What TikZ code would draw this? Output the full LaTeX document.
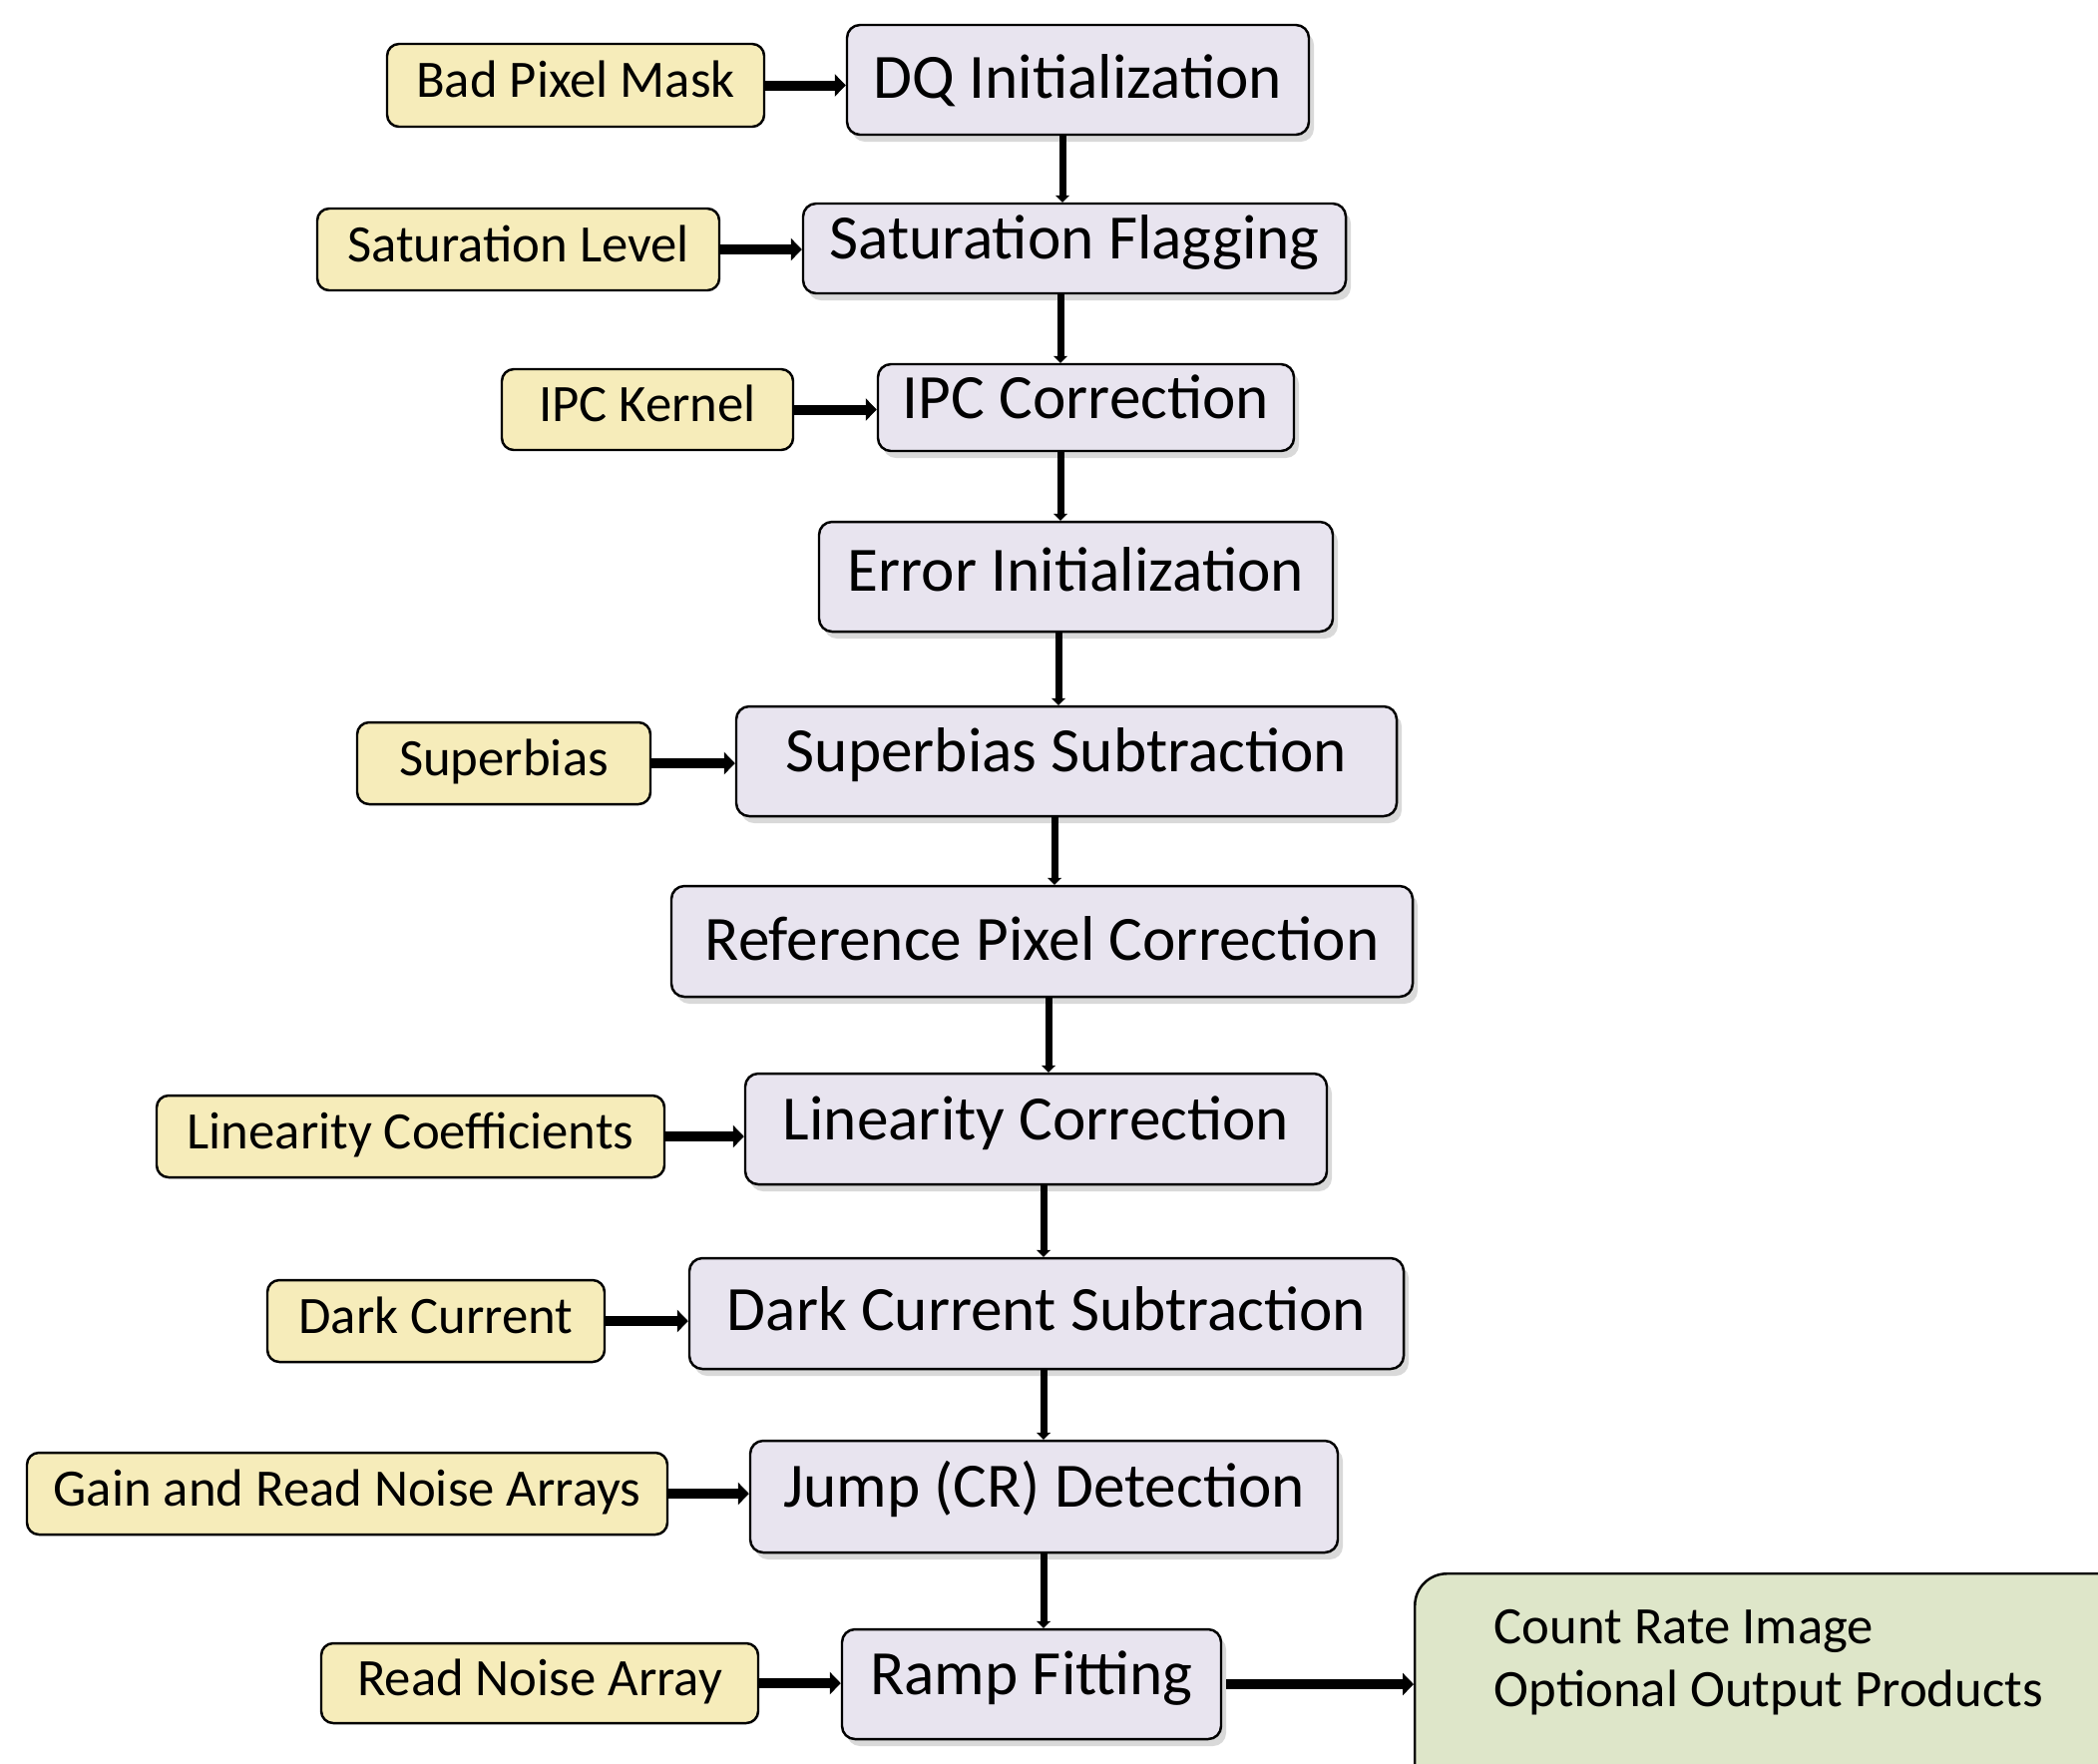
\documentclass[tikz,border=0pt]{standalone}
\usepackage{fontspec}
\setmainfont{Carlito}
\usetikzlibrary{arrows.meta,shadows,calc}

\definecolor{stepfill}{HTML}{E8E4EF}
\definecolor{inputfill}{HTML}{F6ECBA}
\definecolor{outfill}{HTML}{DEE6C9}

\begin{document}
\begin{tikzpicture}[x=0.1mm, y=-0.1mm,
  stepbox/.style={draw, rounded corners=1.3mm, fill=stepfill, line width=0.7pt,
    font=\fontsize{18}{21.6}\selectfont, text height=4.1mm, text depth=2mm, inner sep=0pt,
    drop shadow={shadow xshift=0.5mm, shadow yshift=-0.7mm, opacity=0.3}},
  inputbox/.style={draw, rounded corners=1.2mm, fill=inputfill, line width=0.7pt,
    font=\fontsize{15}{18}\selectfont, text height=3.4mm, text depth=1mm, inner sep=0pt},
  outbox/.style={draw, rounded corners=3.2mm, fill=outfill, line width=0.7pt},
  feed/.style={line width=1mm, -{Triangle[length=1.1mm, width=2.2mm]}},
  down/.style={line width=0.7mm, -{Triangle[length=0.7mm, width=1.4mm]}}]
  \useasboundingbox (0,0) rectangle (2103,1767);
  \node[stepbox, minimum width=46.3mm, minimum height=11mm, text depth=0.4mm] (dq) at (1080.5,80) {DQ Initialization};
  \node[stepbox, minimum width=54.4mm, minimum height=9mm] (sat) at (1077,249) {Saturation Flagging};
  \node[stepbox, minimum width=41.7mm, minimum height=8.7mm] (ipc) at (1088.5,408.5) {IPC Correction};
  \node[stepbox, minimum width=51.5mm, minimum height=11mm, text depth=1.2mm] (err) at (1078.5,578) {Error Initialization};
  \node[stepbox, minimum width=66.2mm, minimum height=11mm] (sub) at (1069,763) {Superbias Subtraction};
  \node[stepbox, minimum width=74.3mm, minimum height=11.1mm, text depth=0.4mm] (ref) at (1044.5,943.5) {Reference Pixel Correction};
  \node[stepbox, minimum width=58.3mm, minimum height=11.1mm] (lin) at (1038.5,1131.5) {Linearity Correction};
  \node[stepbox, minimum width=71.6mm, minimum height=11.1mm, text depth=0.7mm] (dark) at (1049,1316.5) {Dark Current Subtraction};
  \node[stepbox, minimum width=58.9mm, minimum height=11.2mm] (jump) at (1046.5,1500) {Jump (CR) Detection};
  \node[stepbox, minimum width=38mm, minimum height=11mm] (ramp) at (1034,1688) {Ramp Fitting};

  \node[inputbox, minimum width=37.8mm, minimum height=8.3mm] (mask) at (577,85.5) {Bad Pixel Mask};
  \node[inputbox, minimum width=40.3mm, minimum height=8.2mm] (satlev) at (519.5,250) {Saturation Level};
  \node[inputbox, minimum width=29.2mm, minimum height=8.1mm] (kernel) at (649,410.5) {IPC Kernel};
  \node[inputbox, minimum width=29.4mm, minimum height=8.2mm] (bias) at (505,765) {Superbias};
  \node[inputbox, minimum width=50.9mm, minimum height=8.2mm] (coeffs) at (411.5,1139) {Linearity Coefficients};
  \node[inputbox, minimum width=33.8mm, minimum height=8.2mm] (darkcur) at (437,1324) {Dark Current};
  \node[inputbox, minimum width=64.2mm, minimum height=8.2mm] (gain) at (348,1497) {Gain and Read Noise Arrays};
  \node[inputbox, minimum width=43.8mm, minimum height=8mm] (noise) at (541,1687) {Read Noise Array};

  \node[outbox, anchor=north west, minimum width=80mm, minimum height=30mm] (out) at (1417,1576) {};
  \node[anchor=north west, align=left, inner sep=0pt, font=\fontsize{15}{17.9}\selectfont]
    (outtext) at ($(out.north west)+(80,37)$) {Count Rate Image\\Optional Output Products};

  \foreach \a/\b/\x in {dq/sat/1065, sat/ipc/1063, ipc/err/1063, err/sub/1061, sub/ref/1057,
      ref/lin/1051, lin/dark/1046, dark/jump/1046, jump/ramp/1046}
    \draw[down] (\a.south -| \x,0) -- (\b.north -| \x,0);
  \foreach \s/\t in {mask/dq, satlev/sat, kernel/ipc, bias/sub, coeffs/lin, darkcur/dark,
      gain/jump, noise/ramp}
    \draw[feed] (\s.east) -- (\t.west |- \s.east);
  \draw[feed] (ramp.east) ++(4,0) -- (out.west |- ramp.east);
\end{tikzpicture}
\end{document}
